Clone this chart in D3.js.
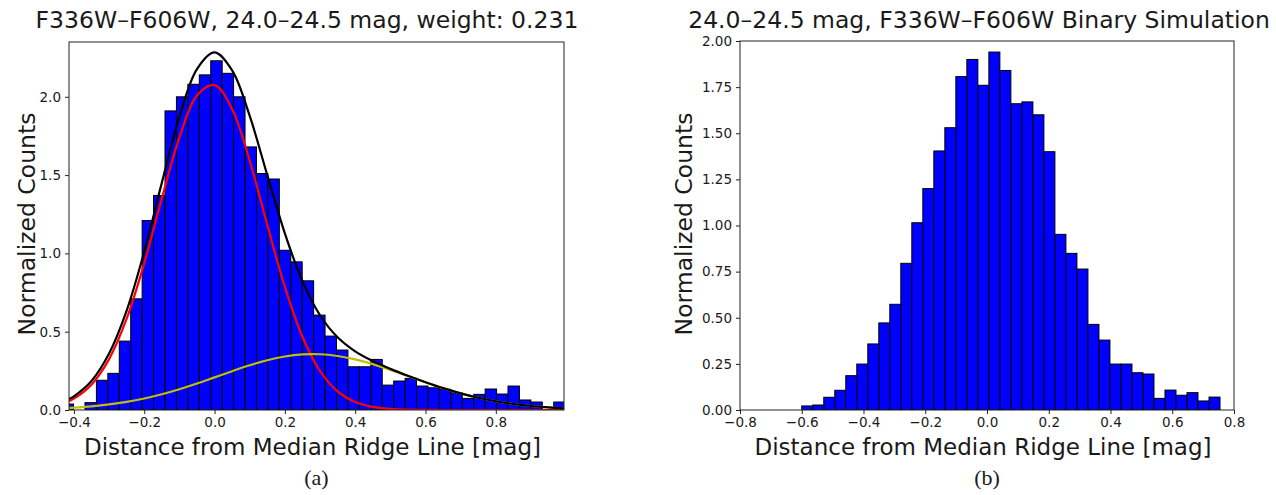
<!DOCTYPE html>
<html>
<head>
<meta charset="utf-8">
<script src="https://cdn.jsdelivr.net/npm/d3@7"></script>
<style>
  body { margin: 0; background: #fff; }
  svg text { font-family: "DejaVu Sans", sans-serif; fill: #1a1a1a; }
</style>
</head>
<body>
<svg id="chart" width="1276" height="495"></svg>
<script>
// (a) observed histogram + two-component fit
const binStartA = -0.4336;
const binWidthA = 0.03252;
const countsA = [
  0.038, 0, 0.047, 0.19, 0.234, 0.44, 0.71, 1.21, 1.37, 1.91,
  2.00, 2.08, 2.14, 2.23, 2.15, 2.00, 1.68, 1.51, 1.475, 1.02,
  0.946, 0.825, 0.606, 0.472, 0.383, 0.276, 0.276, 0.323, 0.159, 0.185,
  0.202, 0.153, 0.142, 0.132, 0.11, 0.074, 0.10, 0.134, 0.102, 0.153,
  0.064, 0.051, 0, 0.051
];
const curveX = [
  -0.414, -0.40, -0.35, -0.30, -0.25, -0.20, -0.15, -0.10, -0.05, 0.00,
  0.05, 0.10, 0.15, 0.20, 0.25, 0.30, 0.35, 0.40, 0.45, 0.50,
  0.55, 0.60, 0.65, 0.70, 0.75, 0.80, 0.85, 0.90, 0.95, 0.994
];
const redFit = [
  0.0567, 0.0724, 0.162, 0.325, 0.583, 0.937, 1.350, 1.740, 2.008, 2.075,
  1.921, 1.592, 1.182, 0.786, 0.468, 0.249, 0.119, 0.0509, 0.0195, 0.0067,
  0.002, 0.0006, 0.0001, 0, 0, 0, 0, 0, 0, 0
];
const yellowFit = [
  0.0131, 0.015, 0.0235, 0.0355, 0.052, 0.0735, 0.1005, 0.1326, 0.169, 0.2085,
  0.248, 0.286, 0.318, 0.3417, 0.3548, 0.356, 0.345, 0.3235, 0.293, 0.256,
  0.2165, 0.177, 0.1396, 0.1065, 0.0785, 0.0559, 0.0385, 0.0256, 0.0164, 0.0108
];
const totalFit = [
  0.0698, 0.0874, 0.1855, 0.3605, 0.635, 1.0105, 1.4505, 1.8726, 2.177, 2.2835,
  2.169, 1.878, 1.500, 1.128, 0.823, 0.605, 0.464, 0.3744, 0.3125, 0.2627,
  0.2185, 0.1776, 0.1397, 0.1065, 0.0785, 0.0559, 0.0385, 0.0256, 0.0164, 0.0108
];
const xTicksA = [-0.4, -0.2, 0.0, 0.2, 0.4, 0.6, 0.8];
const yTicksA = [0, 0.5, 1.0, 1.5, 2.0];

// (b) binary simulation histogram
const binStartB = -0.60;
const binWidthB = 0.03565;
const countsB = [
  0.022, 0.027, 0.069, 0.107, 0.186, 0.249, 0.358, 0.472, 0.573, 0.795,
  1.015, 1.20, 1.404, 1.53, 1.807, 1.90, 1.76, 1.94, 1.84, 1.66,
  1.67, 1.60, 1.40, 0.952, 0.849, 0.764, 0.464, 0.379, 0.249, 0.249,
  0.202, 0.195, 0.063, 0.108, 0.08, 0.094, 0.049, 0.070
];
const xTicksB = [-0.8, -0.6, -0.4, -0.2, 0.0, 0.2, 0.4, 0.6, 0.8];
const yTicksB = [0, 0.25, 0.5, 0.75, 1.0, 1.25, 1.5, 1.75, 2.0];

const svg = d3.select('#chart');

const drawPanel = (opt) => {
  const x = d3.scaleLinear().domain(opt.xDomain).range([opt.left, opt.right]);
  const y = d3.scaleLinear().domain(opt.yDomain).range([410, opt.top]);

  const clipId = 'clip-' + opt.id;
  svg.append('clipPath').attr('id', clipId)
    .append('rect')
    .attr('x', opt.left).attr('y', opt.top)
    .attr('width', opt.right - opt.left).attr('height', 410 - opt.top);

  const g = svg.append('g').attr('clip-path', `url(#${clipId})`);

  const bins = opt.counts.map((v, i) => ({
    x0: opt.binStart + i * opt.binWidth,
    x1: opt.binStart + (i + 1) * opt.binWidth,
    v
  })).filter(d => d.v > 0);

  g.selectAll('rect.bar')
    .data(bins)
    .enter()
    .append('rect')
    .attr('class', 'bar')
    .attr('x', d => x(d.x0))
    .attr('y', d => y(d.v))
    .attr('width', d => x(d.x1) - x(d.x0))
    .attr('height', d => y(0) - y(d.v))
    .attr('fill', '#0000ff')
    .attr('stroke', '#000')
    .attr('stroke-width', 1);

  if (opt.curves) {
    const line = d3.line()
      .x((d, i) => x(curveX[i]))
      .y(d => y(d))
      .curve(d3.curveCatmullRom);
    opt.curves.forEach(c => {
      g.append('path')
        .attr('d', line(c.values))
        .attr('fill', 'none')
        .attr('stroke', c.color)
        .attr('stroke-width', 2.2);
    });
  }

  // frame
  svg.append('rect')
    .attr('x', opt.left).attr('y', opt.top)
    .attr('width', opt.right - opt.left).attr('height', 410 - opt.top)
    .attr('fill', 'none')
    .attr('stroke', '#222')
    .attr('stroke-width', 1);

  const xAxis = svg.append('g')
    .attr('transform', 'translate(0,410)')
    .call(d3.axisBottom(x).tickValues(opt.xTicks).tickFormat(d3.format('.1f'))
      .tickSize(4).tickPadding(3));
  const yAxis = svg.append('g')
    .attr('transform', `translate(${opt.left},0)`)
    .call(d3.axisLeft(y).tickValues(opt.yTicks).tickFormat(d3.format(opt.yFormat))
      .tickSize(4).tickPadding(4));
  [xAxis, yAxis].forEach(a => {
    a.select('.domain').remove();
    a.selectAll('line').attr('stroke', '#222');
    a.selectAll('text').style('font-size', '13.5px').attr('fill', '#1a1a1a');
  });

  const cx = (opt.left + opt.right) / 2;
  svg.append('text')
    .attr('x', opt.titleX).attr('y', 28)
    .attr('text-anchor', 'middle')
    .style('font-size', '23.5px')
    .text(opt.title);

  svg.append('text')
    .attr('x', cx - 4).attr('y', 455)
    .attr('text-anchor', 'middle')
    .style('font-size', '23px')
    .text('Distance from Median Ridge Line [mag]');

  svg.append('text')
    .attr('transform', `translate(${opt.yLabelX},224) rotate(-90)`)
    .attr('text-anchor', 'middle')
    .style('font-size', '23.5px')
    .text('Normalized Counts');

  svg.append('text')
    .attr('x', cx).attr('y', 485)
    .attr('text-anchor', 'middle')
    .style('font-family', '"Liberation Serif", serif')
    .style('font-size', '22px')
    .text(opt.tag);
};

drawPanel({
  id: 'a',
  left: 69, right: 564, top: 42,
  xDomain: [-0.414, 0.994], yDomain: [0, 2.35],
  binStart: binStartA, binWidth: binWidthA, counts: countsA,
  xTicks: xTicksA, yTicks: yTicksA, yFormat: '.1f',
  curves: [
    { values: redFit, color: '#ff0000' },
    { values: yellowFit, color: '#bfbf00' },
    { values: totalFit, color: '#000000' }
  ],
  title: 'F336W\u2013F606W, 24.0\u201324.5 mag, weight: 0.231',
  titleX: 307,
  yLabelX: 35,
  tag: '(a)'
});

drawPanel({
  id: 'b',
  left: 740, right: 1234, top: 41,
  xDomain: [-0.8, 0.8], yDomain: [0, 2.0],
  binStart: binStartB, binWidth: binWidthB, counts: countsB,
  xTicks: xTicksB, yTicks: yTicksB, yFormat: '.2f',
  title: '24.0\u201324.5 mag, F336W\u2013F606W Binary Simulation',
  titleX: 979,
  yLabelX: 692,
  tag: '(b)'
});
</script>
</body>
</html>
